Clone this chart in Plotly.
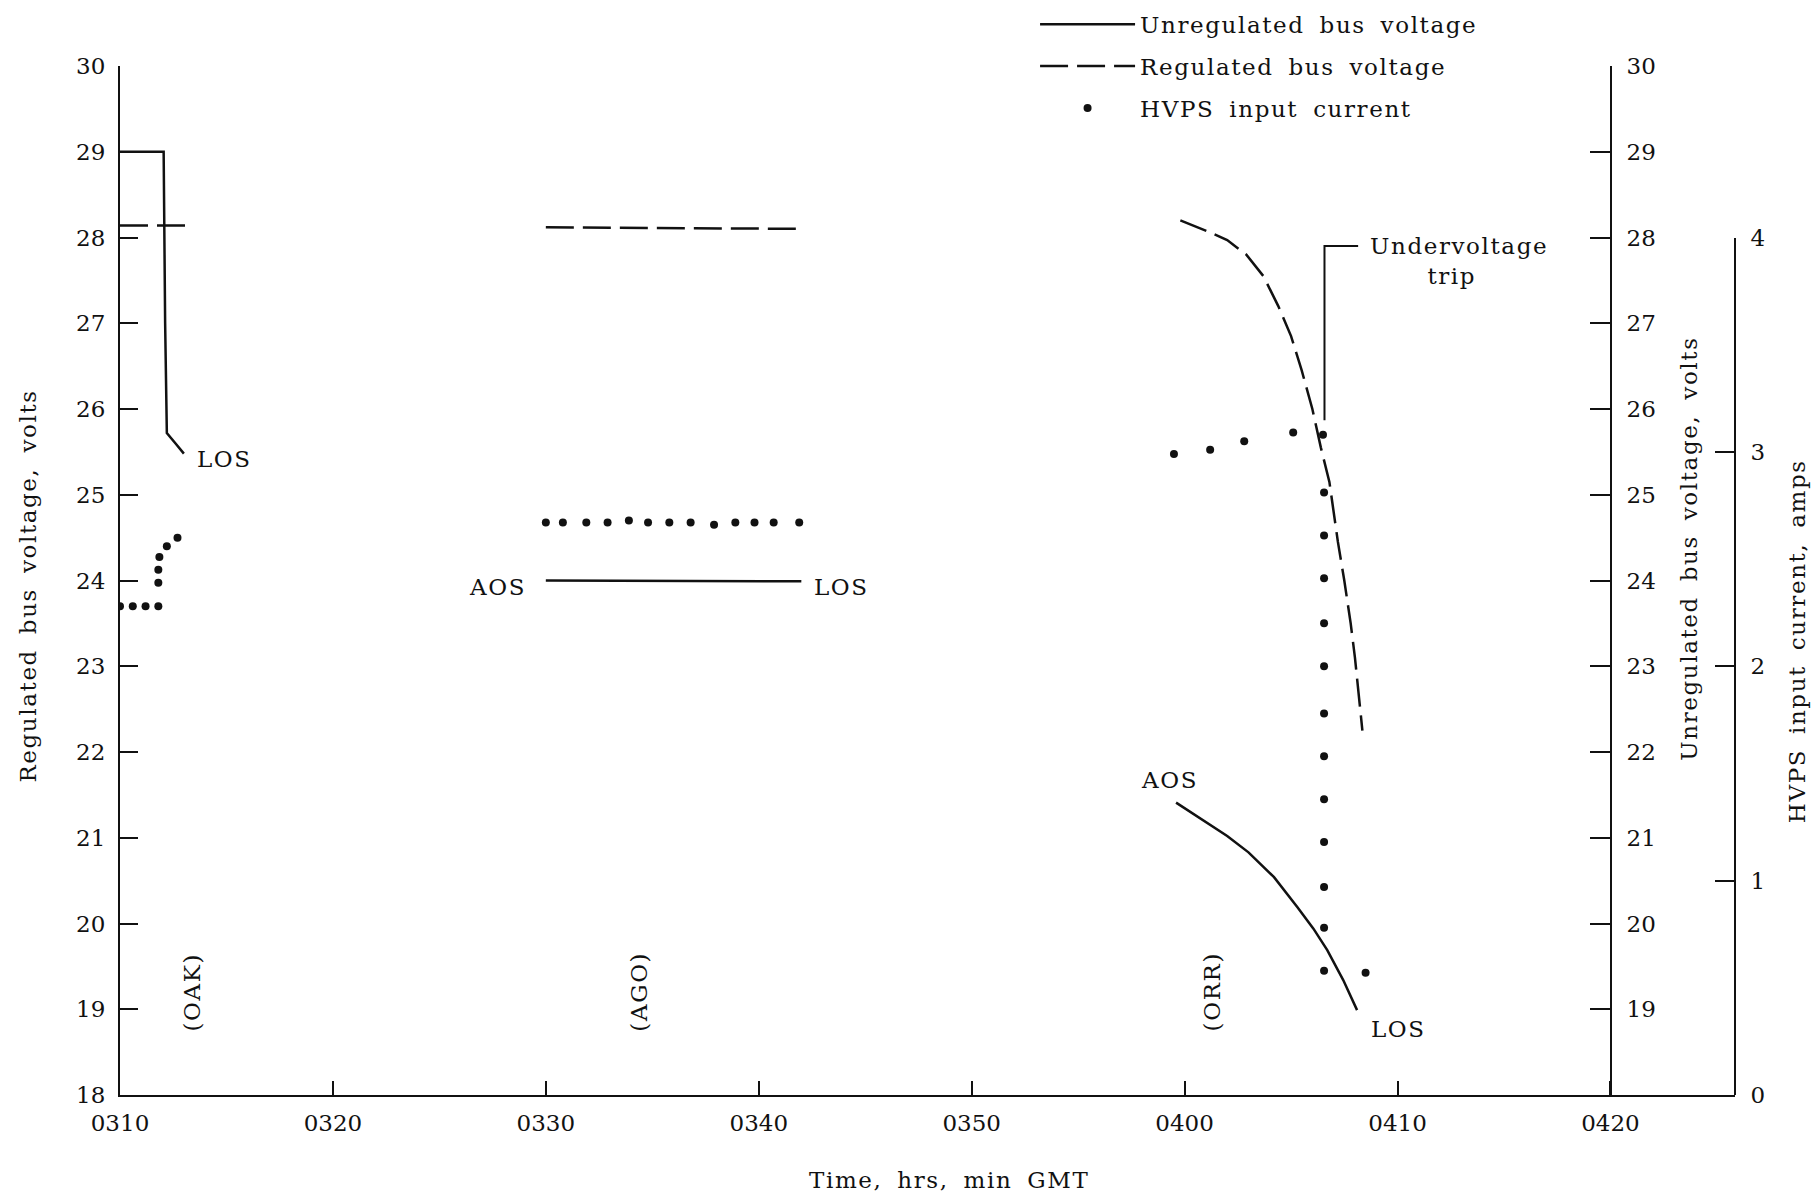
import plotly.graph_objects as go

# ---------------- data (time = minutes after 0300 GMT) ----------------
x_tick_vals = [10, 20, 30, 40, 50, 60, 70, 80]
x_tick_text = ["0310", "0320", "0330", "0340", "0350", "0400", "0410", "0420"]
left_volt_ticks = [18, 19, 20, 21, 22, 23, 24, 25, 26, 27, 28, 29, 30]
right_volt_ticks = [19, 20, 21, 22, 23, 24, 25, 26, 27, 28, 29, 30]
amp_ticks = [0, 1, 2, 3, 4]

# Unregulated bus voltage (solid)
unreg_oak_t = [10.0, 12.05, 12.12, 12.2, 12.6, 13.0]
unreg_oak_v = [29.0, 29.0, 27.0, 25.72, 25.6, 25.48]
unreg_ago_t = [30.0, 42.0]
unreg_ago_v = [24.0, 23.99]
unreg_orr_t = [59.6, 60.9, 62.0, 63.0, 64.2, 65.3, 66.05, 66.7, 67.45, 68.1]
unreg_orr_v = [21.41, 21.2, 21.02, 20.83, 20.54, 20.19, 19.94, 19.69, 19.34, 18.99]

# Regulated bus voltage (dashed)
reg_oak_t = [10.0, 13.1]
reg_oak_v = [28.14, 28.14]
reg_ago_t = [30.0, 42.1]
reg_ago_v = [28.12, 28.10]
reg_orr_t = [59.8, 61.2, 62.0, 62.9, 63.7, 64.4, 65.0, 65.5, 66.0, 66.4, 66.8, 67.2, 67.5, 67.8, 68.0, 68.2, 68.35]
reg_orr_v = [28.2, 28.06, 27.97, 27.8, 27.55, 27.2, 26.85, 26.45, 26.0, 25.55, 25.15, 24.45, 24.0, 23.5, 23.1, 22.65, 22.25]

# HVPS input current, amps (dots)
hvps_oak_t = [10.0, 10.6, 11.2, 11.8, 11.8, 11.8, 11.85, 12.2, 12.7]
hvps_oak_a = [2.28, 2.28, 2.28, 2.28, 2.39, 2.45, 2.51, 2.56, 2.60]
hvps_ago_t = [30.0, 30.8, 31.9, 32.9, 33.9, 34.8, 35.8, 36.8, 37.9, 38.9, 39.8, 40.7, 41.9]
hvps_ago_a = [2.67, 2.67, 2.67, 2.67, 2.68, 2.67, 2.67, 2.67, 2.66, 2.67, 2.67, 2.67, 2.67]
hvps_orr_t = [59.5, 61.2, 62.8, 65.1, 66.5, 66.55, 66.55, 66.55, 66.55, 66.55, 66.55,
              66.55, 66.55, 66.55, 66.55, 66.55, 66.55, 68.5]
hvps_orr_a = [2.99, 3.01, 3.05, 3.09, 3.08, 2.81, 2.61, 2.41, 2.20, 2.00, 1.78,
              1.58, 1.38, 1.18, 0.97, 0.78, 0.58, 0.57]

# text labels: (text, time, volts)
event_labels = [("LOS", 14.9, 25.42), ("AOS", 27.75, 23.93), ("LOS", 43.9, 23.93),
                ("AOS", 59.3, 21.67), ("LOS", 70.05, 18.77)]
station_labels = [("(OAK)", 13.4, 19.2), ("(AGO)", 34.4, 19.2), ("(ORR)", 61.3, 19.2)]
trip_t, trip_v_low, trip_v_high, trip_t_end = 66.57, 25.87, 27.9, 68.15

def join(*segs):
    out = []
    for i, s in enumerate(segs):
        if i:
            out.append(None)
        out.extend(s)
    return out

FONT = "DejaVu Serif"
FS = 23
TICK_FS = 23
BLACK = "#111111"

def sp(txt):
    return f'<span style="letter-spacing:1.6px;word-spacing:6px">{txt}</span>'

fig = go.Figure()
fig.add_trace(go.Scatter(
    x=join(unreg_oak_t, unreg_ago_t, unreg_orr_t),
    y=join(unreg_oak_v, unreg_ago_v, unreg_orr_v),
    mode="lines", name=sp("Unregulated bus voltage"),
    line=dict(color=BLACK, width=2.5), yaxis="y2", legendgroup="a"))
fig.add_trace(go.Scatter(
    x=join(reg_oak_t, reg_ago_t, reg_orr_t),
    y=join(reg_oak_v, reg_ago_v, reg_orr_v),
    mode="lines", name=sp("Regulated bus voltage"),
    line=dict(color=BLACK, width=2.5, dash="28px,9px"), yaxis="y", legendgroup="b"))
fig.add_trace(go.Scatter(
    x=hvps_oak_t + hvps_ago_t + hvps_orr_t,
    y=hvps_oak_a + hvps_ago_a + hvps_orr_a,
    mode="markers", name=sp("HVPS input current"),
    marker=dict(color=BLACK, size=8), yaxis="y3", legendgroup="c"))

tfont = dict(family=FONT, size=FS, color=BLACK)
annotations = []
for txt, t, v in event_labels:
    annotations.append(dict(x=t, y=v, xref="x", yref="y", text=sp(txt), showarrow=False, font=tfont))
for txt, t, v in station_labels:
    annotations.append(dict(x=t, y=v, xref="x", yref="y", text=sp(txt), showarrow=False,
                            textangle=-90, font=tfont))
annotations.append(dict(x=68.6, y=trip_v_high, xref="x", yref="y",
                        text=sp("Undervoltage") + "<br>" + sp("trip") + "&nbsp;&nbsp;",
                        showarrow=False, xanchor="left", yanchor="top", yshift=15, align="center",
                        font=tfont))
# axis titles (positions in paper fractions of the plot area)
annotations += [
    dict(x=-0.057, y=0.495, xref="paper", yref="paper", text=sp("Regulated bus voltage, volts"),
         textangle=-90, showarrow=False, xanchor="center", yanchor="middle", font=tfont),
    dict(x=0.971, y=0.531, xref="paper", yref="paper", text=sp("Unregulated bus voltage, volts"),
         textangle=-90, showarrow=False, xanchor="center", yanchor="middle", font=tfont),
    dict(x=1.0384, y=0.441, xref="paper", yref="paper", text=sp("HVPS input current, amps"),
         textangle=-90, showarrow=False, xanchor="center", yanchor="middle", font=tfont),
    dict(x=0.5133, y=-0.0826, xref="paper", yref="paper", text=sp("Time, hrs, min GMT"),
         showarrow=False, xanchor="center", yanchor="middle", font=tfont),
]

shapes = [dict(type="path", xref="x", yref="y",
               path=f"M {trip_t},{trip_v_low} L {trip_t},{trip_v_high} L {trip_t_end},{trip_v_high}",
               line=dict(color=BLACK, width=2))]

axis_common = dict(showline=True, linecolor=BLACK, linewidth=2, showgrid=False, zeroline=False,
                   ticks="inside", tickwidth=2, tickcolor=BLACK,
                   tickfont=dict(family=FONT, size=TICK_FS, color=BLACK))

fig.update_layout(
    width=1820, height=1197,
    margin=dict(l=120, r=85, t=66, b=102, autoexpand=False),
    paper_bgcolor="white", plot_bgcolor="rgba(0,0,0,0)",
    showlegend=True,
    legend=dict(x=0.5666, y=1.0615, xanchor="left", yanchor="top",
                font=dict(family=FONT, size=FS, color=BLACK),
                bgcolor="rgba(0,0,0,0)", traceorder="grouped", tracegroupgap=9,
                itemwidth=95),
    xaxis=dict(domain=[0, 1], range=[10, 85.85], tickvals=x_tick_vals, ticktext=x_tick_text,
               ticklen=14, anchor="y", ticklabelstandoff=6, **axis_common),
    yaxis=dict(domain=[0, 1], range=[18, 30], tickvals=left_volt_ticks, ticklen=18,
               ticklabelstandoff=8, **axis_common),
    yaxis2=dict(overlaying="y", anchor="free", position=0.9232, side="right", range=[18, 30],
                tickvals=right_volt_ticks, ticklen=20, ticklabelstandoff=10, **axis_common),
    yaxis3=dict(anchor="free", position=1.0, side="right", domain=[0, 10 / 12], range=[0, 4],
                tickvals=amp_ticks, ticklen=19, ticklabelstandoff=10, **axis_common),
    annotations=annotations,
    shapes=shapes,
)

fig.write_html("out.html")
